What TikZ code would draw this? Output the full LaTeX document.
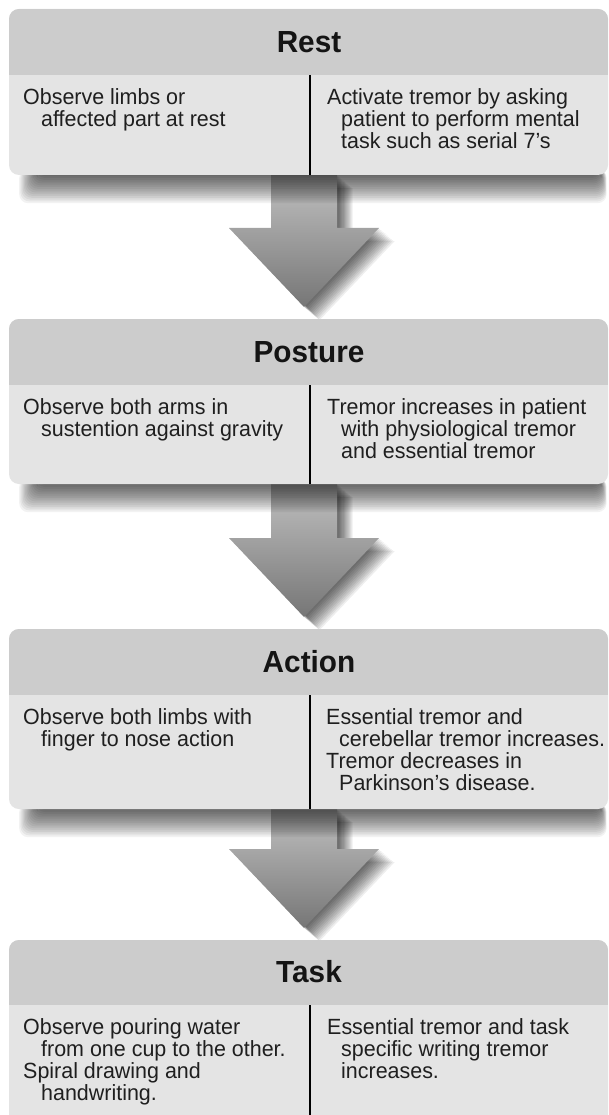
\documentclass[tikz,border=0pt]{standalone}
\usepackage{fontspec}
\setmainfont[FakeStretch=0.975]{Liberation Sans}
\definecolor{headgray}{RGB}{204,204,204}
\definecolor{bodygray}{RGB}{228,228,228}
\definecolor{arrowtop}{RGB}{192,192,192}
\definecolor{arrowbot}{RGB}{118,118,118}
\tikzset{
  titletext/.style={font=\fontsize{30.5}{30}\selectfont\bfseries, inner sep=0pt, text=black!92},
  bodytext/.style={font=\fontsize{22}{22}\selectfont, inner sep=0pt, anchor=north west, align=left, text=black!88},
  dividerline/.style={line width=1.3pt, black},
}
% #1 top, #2 header bottom, #3 body bottom
\newcommand\stagebox[3]{%
  \foreach \k in {1,...,16}{%
    \fill[black,opacity=0.05,rounded corners=9] (18+1.2*\k,#3-6) rectangle (607-0.4*\k,#3+30-1.8*\k);
  }%
  \fill[bodygray,rounded corners=10] (9,#1) rectangle (608,#3);
  \begin{scope}
    \clip[rounded corners=10] (9,#1) rectangle (608,#3);
    \fill[headgray] (9,#1) rectangle (608,#2);
  \end{scope}
}
% #1 box bottom, #2 next box top
\newcommand\flowarrow[2]{%
  \foreach \k in {1,...,12}{%
    \fill[black,opacity=0.065,shift={(1.3*\k,1.1*\k)}]
      (271,#1) -- (337,#1) -- (337,#2-91) -- (379,#2-91) -- (304,#2-12) -- (229,#2-91) -- (271,#2-91) -- cycle;
  }%
  \shade[top color=arrowtop, bottom color=arrowbot]
      (271,#1) -- (337,#1) -- (337,#2-91) -- (379,#2-91) -- (304,#2-12) -- (229,#2-91) -- (271,#2-91) -- cycle;
}
\begin{document}
\begin{tikzpicture}[x=1pt,y=-1pt]
\useasboundingbox (0,0) rectangle (609,1115);
\clip (0,0) rectangle (609,1115);
\fill[white] (0,0) rectangle (609,1115);

% arrows between the stages
\flowarrow{175}{319}
\flowarrow{484}{629}
\flowarrow{809}{940}

% Rest
\stagebox{9}{75}{175}
\node[titletext] (rest) at (309,42) {Rest};
\coordinate (restdivtop) at (310,75);
\coordinate (restdivbot) at (310,175);
\draw[dividerline] (restdivtop) -- (restdivbot);
\node[bodytext] (restleft) at (23,88) {Observe limbs or\\\hspace*{18pt}affected part at rest};
\node[bodytext] (restright) at (327,88) {Activate tremor by asking\\\hspace*{14pt}patient to perform mental\\\hspace*{14pt}task such as serial 7’s};

% Posture
\stagebox{319}{385}{484}
\node[titletext] (posture) at (309,352) {Posture};
\coordinate (posdivtop) at (310,385);
\coordinate (posdivbot) at (310,484);
\draw[dividerline] (posdivtop) -- (posdivbot);
\node[bodytext] (posleft) at (23,398) {Observe both arms in\\\hspace*{18pt}sustention against gravity};
\node[bodytext] (posright) at (327,398) {Tremor increases in patient\\\hspace*{14pt}with physiological tremor\\\hspace*{14pt}and essential tremor};

% Action
\stagebox{629}{695}{809}
\node[titletext] (action) at (309,662) {Action};
\coordinate (actdivtop) at (310,695);
\coordinate (actdivbot) at (310,809);
\draw[dividerline] (actdivtop) -- (actdivbot);
\node[bodytext] (actleft) at (23,708) {Observe both limbs with\\\hspace*{18pt}finger to nose action};
\node[bodytext] (actright) at (326,708) {Essential tremor and\\\hspace*{13pt}cerebellar tremor increases.\\Tremor decreases in\\\hspace*{13pt}Parkinson’s disease.};

% Task
\stagebox{940}{1005}{1140}
\node[titletext] (task) at (309,972) {Task};
\coordinate (taskdivtop) at (310,1005);
\coordinate (taskdivbot) at (310,1140);
\draw[dividerline] (taskdivtop) -- (taskdivbot);
\node[bodytext] (taskleft) at (23,1018) {Observe pouring water\\\hspace*{18pt}from one cup to the other.\\Spiral drawing and\\\hspace*{18pt}handwriting.};
\node[bodytext] (taskright) at (327,1018) {Essential tremor and task\\\hspace*{14pt}specific writing tremor\\\hspace*{14pt}increases.};
\end{tikzpicture}
\end{document}
